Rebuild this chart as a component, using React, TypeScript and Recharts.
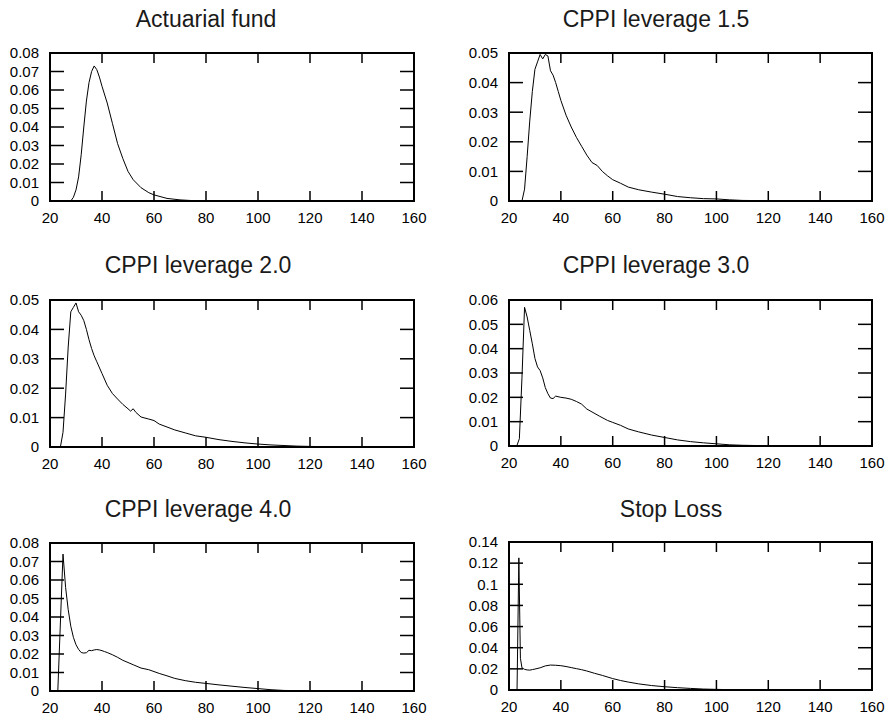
import React from 'react';
import { LineChart, Line, XAxis, YAxis, ReferenceArea } from 'recharts';

// shared x axis
const xTicks = [20, 40, 60, 80, 100, 120, 140, 160];

// Actuarial fund
const actuarialX = [20, 28, 29, 30, 31, 32, 33, 34, 35, 36, 37, 38, 39, 40, 42, 44, 46, 48, 50, 52, 55, 58, 60, 65, 70, 75, 80, 100, 160];
const actuarialY = [0, 0, 0.002, 0.006, 0.013, 0.025, 0.04, 0.054, 0.064, 0.07, 0.073, 0.071, 0.067, 0.062, 0.053, 0.042, 0.031, 0.023, 0.016, 0.0115, 0.0072, 0.0045, 0.0033, 0.0014, 0.0006, 0.0002, 0.0001, 0, 0];
const actuarialTicks = [0, 0.01, 0.02, 0.03, 0.04, 0.05, 0.06, 0.07, 0.08];

// CPPI leverage 1.5
const lev15X = [20, 25, 26, 27, 28, 29, 30, 31, 32, 33, 34, 35, 36, 37, 38, 39, 40, 42, 44, 46, 48, 50, 52, 54, 56, 58, 60, 63, 66, 70, 75, 80, 85, 90, 95, 100, 105, 110, 120, 130, 160];
const lev15Y = [0, 0, 0.004, 0.015, 0.027, 0.037, 0.0445, 0.047, 0.0495, 0.048, 0.0495, 0.049, 0.044, 0.0425, 0.04, 0.037, 0.034, 0.029, 0.025, 0.0215, 0.0185, 0.0155, 0.013, 0.012, 0.01, 0.0085, 0.0072, 0.006, 0.0047, 0.0038, 0.003, 0.0023, 0.0015, 0.0011, 0.0008, 0.0007, 0.0004, 0.0002, 0.0001, 0, 0];
const lev15Ticks = [0, 0.01, 0.02, 0.03, 0.04, 0.05];

// CPPI leverage 2.0
const lev20X = [20, 24, 25, 26, 27, 28, 29, 30, 31, 32, 33, 34, 35, 36, 37, 38, 40, 42, 44, 46, 48, 50, 51, 52, 53, 55, 58, 60, 62, 65, 68, 72, 76, 80, 85, 90, 95, 100, 105, 110, 115, 120, 125, 160];
const lev20Y = [0, 0, 0.005, 0.018, 0.034, 0.046, 0.0475, 0.049, 0.046, 0.0448, 0.043, 0.04, 0.0365, 0.0335, 0.031, 0.029, 0.025, 0.021, 0.0182, 0.0163, 0.0145, 0.013, 0.0122, 0.013, 0.0118, 0.0102, 0.0095, 0.009, 0.0078, 0.0068, 0.0058, 0.0048, 0.0038, 0.0033, 0.0025, 0.0019, 0.0014, 0.001, 0.0007, 0.0005, 0.0003, 0.0002, 0.0001, 0];
const lev20Ticks = [0, 0.01, 0.02, 0.03, 0.04, 0.05];

// CPPI leverage 3.0
const lev30X = [20, 23, 24, 25, 26, 27, 28, 29, 30, 31, 32, 33, 34, 35, 36, 37, 38, 40, 42, 44, 46, 48, 50, 52, 55, 58, 60, 63, 66, 70, 75, 80, 85, 90, 95, 100, 105, 110, 115, 120, 160];
const lev30Y = [0, 0, 0.003, 0.028, 0.057, 0.053, 0.0475, 0.042, 0.036, 0.0325, 0.031, 0.028, 0.024, 0.0215, 0.0197, 0.0195, 0.0205, 0.02, 0.0197, 0.0192, 0.0183, 0.0172, 0.0152, 0.014, 0.0122, 0.0105, 0.0097, 0.0085, 0.007, 0.0058, 0.0045, 0.0035, 0.0025, 0.0018, 0.0013, 0.0009, 0.0005, 0.0003, 0.0002, 0.0001, 0];
const lev30Ticks = [0, 0.01, 0.02, 0.03, 0.04, 0.05, 0.06];

// CPPI leverage 4.0
const lev40X = [20, 23, 25, 26, 27, 28, 29, 30, 31, 32, 33, 34, 35, 36, 37, 38, 39, 40, 41, 42, 44, 46, 48, 50, 52, 55, 58, 60, 62, 65, 68, 72, 76, 80, 85, 90, 95, 100, 105, 110, 120, 130, 160];
const lev40Y = [0, 0, 0.074, 0.056, 0.044, 0.035, 0.029, 0.025, 0.0225, 0.0208, 0.0205, 0.0207, 0.022, 0.0218, 0.0222, 0.0224, 0.0222, 0.0218, 0.0213, 0.0208, 0.0196, 0.0182, 0.0166, 0.0154, 0.0142, 0.0124, 0.0115, 0.0105, 0.0095, 0.0082, 0.0068, 0.0056, 0.0047, 0.0041, 0.0033, 0.0026, 0.0019, 0.0013, 0.0007, 0.0003, 0.0001, 0.0001, 0];
const lev40Ticks = [0, 0.01, 0.02, 0.03, 0.04, 0.05, 0.06, 0.07, 0.08];

// Stop Loss
const stopX = [20, 23.1, 23.8, 24.4, 25, 26, 27, 28, 29, 30, 32, 34, 36, 38, 40, 42, 44, 46, 48, 50, 53, 56, 60, 63, 66, 70, 75, 80, 85, 90, 95, 100, 105, 110, 120, 160];
const stopY = [0, 0, 0.125, 0.03, 0.021, 0.0195, 0.019, 0.0188, 0.0193, 0.0198, 0.021, 0.0228, 0.0236, 0.0234, 0.023, 0.0222, 0.0212, 0.0202, 0.0192, 0.018, 0.0158, 0.0138, 0.0108, 0.009, 0.0075, 0.0058, 0.0042, 0.0031, 0.0022, 0.0015, 0.0009, 0.0006, 0.0003, 0.0002, 0.0001, 0];
const stopTicks = [0, 0.02, 0.04, 0.06, 0.08, 0.1, 0.12, 0.14];

const FONT = '"Liberation Sans", Arial, Helvetica, sans-serif';

// layout of the 2x3 grid (page pixels)
const panels = [
  { title: 'Actuarial fund', xs: actuarialX, ys: actuarialY, yTicks: actuarialTicks, cell: 0, left: 50, right: 414, top: 53, bottom: 201, titleX: 206, titleY: 27 },
  { title: 'CPPI leverage 1.5', xs: lev15X, ys: lev15Y, yTicks: lev15Ticks, cell: 443, left: 509, right: 872, top: 53, bottom: 201, titleX: 656, titleY: 27 },
  { title: 'CPPI leverage 2.0', xs: lev20X, ys: lev20Y, yTicks: lev20Ticks, cell: 0, left: 50, right: 414, top: 300, bottom: 447, titleX: 198, titleY: 273 },
  { title: 'CPPI leverage 3.0', xs: lev30X, ys: lev30Y, yTicks: lev30Ticks, cell: 443, left: 509, right: 872, top: 300, bottom: 446, titleX: 656, titleY: 273 },
  { title: 'CPPI leverage 4.0', xs: lev40X, ys: lev40Y, yTicks: lev40Ticks, cell: 0, left: 50, right: 414, top: 543, bottom: 691, titleX: 198, titleY: 517 },
  { title: 'Stop Loss', xs: stopX, ys: stopY, yTicks: stopTicks, cell: 443, left: 509, right: 872, top: 542, bottom: 690, titleX: 671, titleY: 517 },
];

const fmt = (v: number) => String(Number(v.toFixed(3)));
const blank = () => '';

const tickStyle = { fontSize: 15, fill: '#000', fontFamily: FONT };
const tickLineStyle = { stroke: '#000', strokeWidth: 1.5 };

function Panel({ p }: { p: (typeof panels)[number] }) {
  const data = p.xs.map((x, i) => ({ x, y: p.ys[i] }));
  const yMax = p.yTicks[p.yTicks.length - 1];
  const width = p.right - p.cell + 15;
  const height = p.bottom - p.top + 48;
  return (
    <>
      <div
        style={{
          position: 'absolute',
          left: p.titleX - 200,
          width: 400,
          top: p.titleY - 19.5,
          textAlign: 'center',
          fontFamily: FONT,
          fontSize: 23,
          lineHeight: '23px',
          color: '#1a1a1a',
          whiteSpace: 'nowrap',
        }}
      >
        {p.title}
      </div>
      <div style={{ position: 'absolute', left: p.cell, top: p.top - 13 }}>
        <LineChart width={width} height={height} data={data} margin={{ top: 12, right: 14, left: 0, bottom: 0 }}>
          <XAxis
            xAxisId="b"
            dataKey="x"
            type="number"
            domain={[20, 160]}
            ticks={xTicks}
            interval={0}
            allowDataOverflow
            height={35}
            axisLine={false}
            tickLine={tickLineStyle}
            tickSize={-10}
            tickMargin={21}
            tick={tickStyle}
          />
          <XAxis
            xAxisId="t"
            dataKey="x"
            orientation="top"
            type="number"
            domain={[20, 160]}
            ticks={xTicks}
            interval={0}
            allowDataOverflow
            height={1}
            axisLine={false}
            tickLine={tickLineStyle}
            tickSize={-10}
            tick={tickStyle}
            tickFormatter={blank}
          />
          <YAxis
            yAxisId="l"
            type="number"
            domain={[0, yMax]}
            ticks={p.yTicks}
            interval={0}
            allowDataOverflow
            width={p.left - p.cell}
            axisLine={false}
            tickLine={tickLineStyle}
            tickSize={-14}
            tickMargin={25}
            tick={tickStyle}
            tickFormatter={fmt}
          />
          <YAxis
            yAxisId="r"
            orientation="right"
            type="number"
            domain={[0, yMax]}
            ticks={p.yTicks}
            interval={0}
            allowDataOverflow
            width={1}
            axisLine={false}
            tickLine={tickLineStyle}
            tickSize={-14}
            tick={tickStyle}
            tickFormatter={blank}
          />
          <ReferenceArea
            xAxisId="b"
            yAxisId="l"
            x1={20}
            x2={160}
            y1={0}
            y2={yMax}
            fill="none"
            fillOpacity={0}
            stroke="#000"
            strokeWidth={2}
            strokeOpacity={1}
          />
          {/* invisible twin so the top/right frame axes get built */}
          <Line
            xAxisId="t"
            yAxisId="r"
            type="linear"
            dataKey="y"
            stroke="none"
            dot={false}
            activeDot={false}
            legendType="none"
            isAnimationActive={false}
          />
          <Line
            xAxisId="b"
            yAxisId="l"
            type="linear"
            dataKey="y"
            stroke="#000"
            strokeWidth={1}
            dot={false}
            activeDot={false}
            isAnimationActive={false}
          />
        </LineChart>
      </div>
    </>
  );
}

export default function App() {
  return (
    <div style={{ position: 'absolute', left: 0, top: 0, width: 893, height: 721, background: '#fff' }}>
      {panels.map((p) => (
        <Panel key={p.title} p={p} />
      ))}
    </div>
  );
}
